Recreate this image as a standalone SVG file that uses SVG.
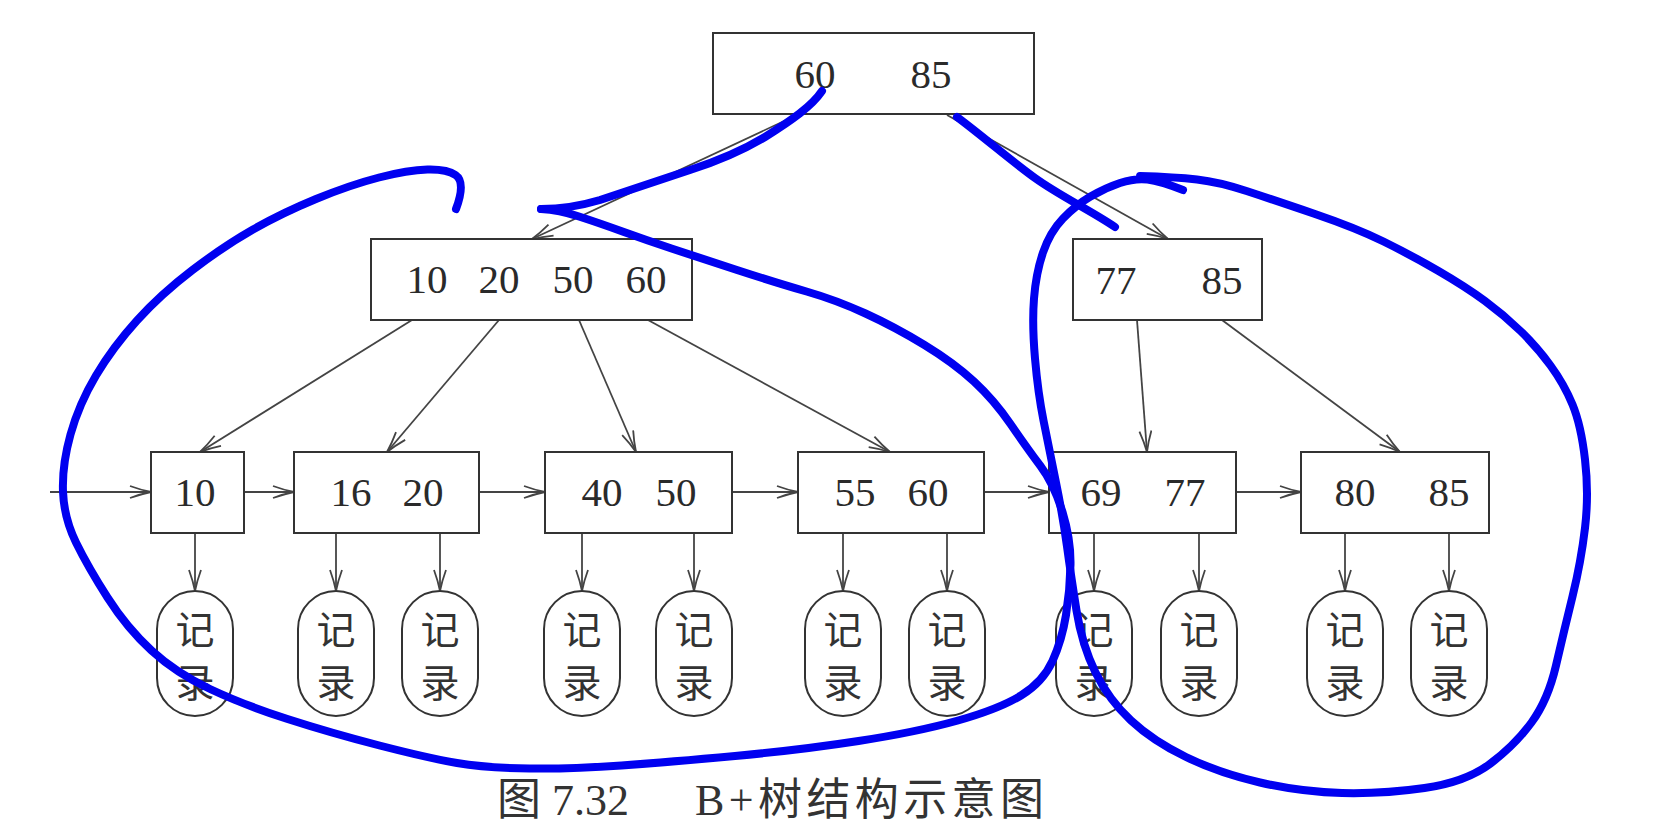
<svg xmlns="http://www.w3.org/2000/svg" width="1670" height="824" viewBox="0 0 1670 824">
<defs>
<style>
.box{fill:#fff;stroke:#333;stroke-width:2}
.rec{fill:#fff;stroke:#333;stroke-width:2}
.num{font-family:"Liberation Serif","Times New Roman",serif;font-size:41px;fill:#2a2a2a;text-anchor:middle}
.cjk{font-family:"Noto Sans CJK SC","Noto Sans CJK JP",sans-serif;font-size:39px;fill:#333;text-anchor:middle;dominant-baseline:central}
.cap{font-family:"Liberation Serif","Noto Sans CJK SC",serif;font-size:44px;fill:#333}
.con line{stroke:#444;stroke-width:1.8;marker-end:url(#ah)}
.ink{fill:none;stroke:#0000f0;stroke-width:8;stroke-linecap:round;stroke-linejoin:round}
</style>
<marker id="ah" markerWidth="24" markerHeight="14" refX="22" refY="7" orient="auto" markerUnits="userSpaceOnUse" viewBox="0 0 24 14">
<path d="M1,1 Q12,5 22,7 Q12,9 1,13" fill="none" stroke="#444" stroke-width="1.8"/>
</marker>
</defs>
<rect width="1670" height="824" fill="#fff"/>

<g id="connectors" class="con">
<line x1="797" y1="115" x2="532" y2="239"/>
<line x1="947" y1="115" x2="1168" y2="239"/>
<line x1="412" y1="320" x2="200" y2="452"/>
<line x1="499" y1="320" x2="387" y2="452"/>
<line x1="579" y1="320" x2="636" y2="452"/>
<line x1="648" y1="320" x2="890" y2="452"/>
<line x1="1137" y1="320" x2="1147" y2="452"/>
<line x1="1222" y1="320" x2="1400" y2="452"/>
<line x1="50" y1="492" x2="151" y2="492"/>
<line x1="244" y1="492" x2="294" y2="492"/>
<line x1="479" y1="492" x2="545" y2="492"/>
<line x1="732" y1="492" x2="798" y2="492"/>
<line x1="984" y1="492" x2="1049" y2="492"/>
<line x1="1236" y1="492" x2="1301" y2="492"/>
<line x1="195" y1="533" x2="195" y2="591"/>
<line x1="336" y1="533" x2="336" y2="591"/>
<line x1="440" y1="533" x2="440" y2="591"/>
<line x1="582" y1="533" x2="582" y2="591"/>
<line x1="694" y1="533" x2="694" y2="591"/>
<line x1="843" y1="533" x2="843" y2="591"/>
<line x1="947" y1="533" x2="947" y2="591"/>
<line x1="1094" y1="533" x2="1094" y2="591"/>
<line x1="1199" y1="533" x2="1199" y2="591"/>
<line x1="1345" y1="533" x2="1345" y2="591"/>
<line x1="1449" y1="533" x2="1449" y2="591"/>
</g>

<g id="root"><rect class="box" x="713" y="33" width="321" height="81"/><text class="num" x="815" y="88">60</text><text class="num" x="931" y="88">85</text></g>
<g id="mid-left"><rect class="box" x="371" y="239" width="321" height="81"/><text class="num" x="427" y="293">10</text><text class="num" x="499" y="293">20</text><text class="num" x="573" y="293">50</text><text class="num" x="646" y="293">60</text></g>
<g id="mid-right"><rect class="box" x="1073" y="239" width="189" height="81"/><text class="num" x="1116" y="294">77</text><text class="num" x="1222" y="294">85</text></g>

<g id="leaf1"><rect class="box" x="151" y="452" width="93" height="81"/><text class="num" x="195" y="506">10</text></g>
<g id="leaf2"><rect class="box" x="294" y="452" width="185" height="81"/><text class="num" x="351" y="506">16</text><text class="num" x="423" y="506">20</text></g>
<g id="leaf3"><rect class="box" x="545" y="452" width="187" height="81"/><text class="num" x="602" y="506">40</text><text class="num" x="676" y="506">50</text></g>
<g id="leaf4"><rect class="box" x="798" y="452" width="186" height="81"/><text class="num" x="855" y="506">55</text><text class="num" x="928" y="506">60</text></g>
<g id="leaf5"><rect class="box" x="1049" y="452" width="187" height="81"/><text class="num" x="1101" y="506">69</text><text class="num" x="1185" y="506">77</text></g>
<g id="leaf6"><rect class="box" x="1301" y="452" width="188" height="81"/><text class="num" x="1355" y="506">80</text><text class="num" x="1449" y="506">85</text></g>

<g id="rec1"><rect class="rec" x="157" y="591" width="76" height="125" rx="38"/><text class="cjk" x="195" y="627">记</text><text class="cjk" x="195" y="680">录</text></g>
<g id="rec2"><rect class="rec" x="298" y="591" width="76" height="125" rx="38"/><text class="cjk" x="336" y="627">记</text><text class="cjk" x="336" y="680">录</text></g>
<g id="rec3"><rect class="rec" x="402" y="591" width="76" height="125" rx="38"/><text class="cjk" x="440" y="627">记</text><text class="cjk" x="440" y="680">录</text></g>
<g id="rec4"><rect class="rec" x="544" y="591" width="76" height="125" rx="38"/><text class="cjk" x="582" y="627">记</text><text class="cjk" x="582" y="680">录</text></g>
<g id="rec5"><rect class="rec" x="656" y="591" width="76" height="125" rx="38"/><text class="cjk" x="694" y="627">记</text><text class="cjk" x="694" y="680">录</text></g>
<g id="rec6"><rect class="rec" x="805" y="591" width="76" height="125" rx="38"/><text class="cjk" x="843" y="627">记</text><text class="cjk" x="843" y="680">录</text></g>
<g id="rec7"><rect class="rec" x="909" y="591" width="76" height="125" rx="38"/><text class="cjk" x="947" y="627">记</text><text class="cjk" x="947" y="680">录</text></g>
<g id="rec8"><rect class="rec" x="1056" y="591" width="76" height="125" rx="38"/><text class="cjk" x="1094" y="627">记</text><text class="cjk" x="1094" y="680">录</text></g>
<g id="rec9"><rect class="rec" x="1161" y="591" width="76" height="125" rx="38"/><text class="cjk" x="1199" y="627">记</text><text class="cjk" x="1199" y="680">录</text></g>
<g id="rec10"><rect class="rec" x="1307" y="591" width="76" height="125" rx="38"/><text class="cjk" x="1345" y="627">记</text><text class="cjk" x="1345" y="680">录</text></g>
<g id="rec11"><rect class="rec" x="1411" y="591" width="76" height="125" rx="38"/><text class="cjk" x="1449" y="627">记</text><text class="cjk" x="1449" y="680">录</text></g>

<g id="caption">
<text class="cap" x="497" y="815">图</text>
<text class="cap" x="552" y="815" font-size="48">7.32</text>
<text class="cap" x="695" y="815" textLength="349">B+树结构示意图</text>
</g>

<g id="annotations">
<path class="ink" d="M822,91 C812,106 792,120 765,137 C740,152 715,162 690,170 C660,180 630,190 600,200 C580,206 560,209 541,209"/>
<path class="ink" d="M541,209 Q559,210 579,216.5 Q599,223 622.5,231.5 Q646,240 671.5,248.5 Q697,257 737,270 Q777,283 806.5,291.5 Q836,300 865.5,313.5 Q895,327 924.5,345 Q954,363 974,381.5 Q994,400 1010.5,424 Q1027,448 1040.5,466 Q1054,484 1062.5,512 Q1071,540 1070.5,565 Q1070,590 1066,615 Q1062,640 1052.5,661 Q1043,682 1021,695.5 Q999,709 958,720.5 Q917,732 858.5,741 Q800,750 735,756 Q670,762 621.5,765.5 Q573,769 529.5,768.5 Q486,768 457,763 Q428,758 379.5,745.5 Q331,733 287.5,719 Q244,705 210,689 Q176,673 151.5,650.5 Q127,628 107.5,597.5 Q88,567 76,542.5 Q64,518 63,491.5 Q62,465 70.5,434.5 Q79,404 96,375.5 Q113,347 137,320.5 Q161,294 192.5,270 Q224,246 253,229.5 Q282,213 316,199 Q350,185 379,177.5 Q408,170 427.5,169.5 Q447,169 455.5,175 Q466,182 456,209"/>
<path class="ink" d="M957,117 C985,138 1010,160 1035,178 C1060,196 1090,210 1115,227"/>
<path class="ink" d="M1183,190 Q1160,181 1147.5,179.5 Q1135,178 1120,183 Q1105,188 1090.5,196.5 Q1076,205 1063,218.5 Q1050,232 1043,252.5 Q1036,273 1034,298.5 Q1032,324 1035,358.5 Q1038,393 1043.5,420.5 Q1049,448 1056,482.5 Q1063,517 1067,546.5 Q1071,576 1076.5,610.5 Q1082,645 1095.5,672.5 Q1109,700 1131,720.5 Q1153,741 1186,757 Q1219,773 1260,782.5 Q1301,792 1342,793 Q1383,794 1424.5,788 Q1466,782 1490.5,763.5 Q1515,745 1531.5,722.5 Q1548,700 1556,665.5 Q1564,631 1572.5,596.5 Q1581,562 1585,528 Q1589,494 1585,459.5 Q1581,425 1572.5,404.5 Q1564,384 1550.5,365.5 Q1537,347 1520.5,331 Q1504,315 1485,301 Q1466,287 1438.5,271 Q1411,255 1383.5,241.5 Q1356,228 1315,214 Q1274,200 1246.5,191 Q1219,182 1197,179.5 Q1175,177 1140,176"/>
</g>
</svg>
